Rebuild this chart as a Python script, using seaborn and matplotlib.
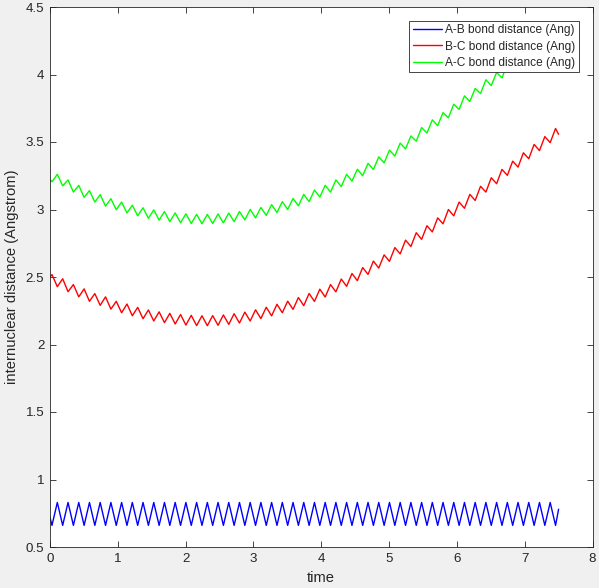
import matplotlib
matplotlib.use("Agg")
import seaborn as sns
from matplotlib import pyplot as plt
from matplotlib.ticker import FormatStrFormatter
import numpy as np
import pandas as pd

# time of each turning point of the A-B vibration
time = [0.0, 0.029, 0.108, 0.187, 0.266, 0.345, 0.424, 0.503, 0.582, 0.661,
        0.740, 0.819, 0.898, 0.977, 1.056, 1.135, 1.214, 1.293, 1.372, 1.451,
        1.530, 1.609, 1.688, 1.767, 1.846, 1.925, 2.004, 2.083, 2.162, 2.241,
        2.320, 2.399, 2.478, 2.557, 2.636, 2.715, 2.794, 2.873, 2.952, 3.031,
        3.110, 3.189, 3.268, 3.347, 3.426, 3.505, 3.584, 3.663, 3.742, 3.821,
        3.900, 3.979, 4.058, 4.137, 4.216, 4.295, 4.374, 4.453, 4.532, 4.611,
        4.690, 4.769, 4.848, 4.927, 5.006, 5.085, 5.164, 5.243, 5.322, 5.401,
        5.480, 5.559, 5.638, 5.717, 5.796, 5.875, 5.954, 6.033, 6.112, 6.191,
        6.270, 6.349, 6.428, 6.507, 6.586, 6.665, 6.744, 6.823, 6.902, 6.981,
        7.060, 7.139, 7.218, 7.297, 7.376, 7.455, 7.5]

ab = [0.72, 0.66, 0.83, 0.66, 0.83, 0.66, 0.83, 0.66, 0.83, 0.66,
      0.83, 0.66, 0.83, 0.66, 0.83, 0.66, 0.83, 0.66, 0.83, 0.66,
      0.83, 0.66, 0.83, 0.66, 0.83, 0.66, 0.83, 0.66, 0.83, 0.66,
      0.83, 0.66, 0.83, 0.66, 0.83, 0.66, 0.83, 0.66, 0.83, 0.66,
      0.83, 0.66, 0.83, 0.66, 0.83, 0.66, 0.83, 0.66, 0.83, 0.66,
      0.83, 0.66, 0.83, 0.66, 0.83, 0.66, 0.83, 0.66, 0.83, 0.66,
      0.83, 0.66, 0.83, 0.66, 0.83, 0.66, 0.83, 0.66, 0.83, 0.66,
      0.83, 0.66, 0.83, 0.66, 0.83, 0.66, 0.83, 0.66, 0.83, 0.66,
      0.83, 0.66, 0.83, 0.66, 0.83, 0.66, 0.83, 0.66, 0.83, 0.66,
      0.83, 0.66, 0.83, 0.66, 0.83, 0.66, 0.78]

bc = [2.50, 2.518, 2.428, 2.487, 2.391, 2.444, 2.353, 2.412, 2.320, 2.377,
      2.290, 2.353, 2.262, 2.320, 2.235, 2.300, 2.213, 2.275, 2.191, 2.256,
      2.174, 2.242, 2.162, 2.231, 2.152, 2.222, 2.144, 2.216, 2.140, 2.213,
      2.139, 2.214, 2.142, 2.219, 2.149, 2.228, 2.159, 2.240, 2.174, 2.257,
      2.192, 2.276, 2.212, 2.298, 2.235, 2.321, 2.260, 2.348, 2.288, 2.378,
      2.319, 2.410, 2.352, 2.444, 2.390, 2.485, 2.431, 2.526, 2.473, 2.570,
      2.519, 2.618, 2.566, 2.664, 2.616, 2.718, 2.671, 2.773, 2.726, 2.828,
      2.779, 2.880, 2.834, 2.938, 2.894, 3.000, 2.953, 3.055, 3.009, 3.112,
      3.067, 3.172, 3.129, 3.235, 3.191, 3.297, 3.253, 3.358, 3.314, 3.420,
      3.376, 3.482, 3.436, 3.540, 3.495, 3.600, 3.557]

ac = [3.224, 3.205, 3.261, 3.175, 3.219, 3.129, 3.179, 3.090, 3.140, 3.055,
      3.110, 3.025, 3.080, 2.998, 3.055, 2.974, 3.032, 2.953, 3.013, 2.935,
      2.997, 2.921, 2.985, 2.910, 2.975, 2.902, 2.968, 2.896, 2.964, 2.894,
      2.964, 2.896, 2.967, 2.901, 2.974, 2.910, 2.985, 2.923, 3.001, 2.938,
      3.015, 2.956, 3.036, 2.977, 3.058, 3.000, 3.082, 3.027, 3.112, 3.058,
      3.144, 3.092, 3.179, 3.129, 3.219, 3.170, 3.261, 3.210, 3.298, 3.250,
      3.342, 3.296, 3.390, 3.345, 3.440, 3.396, 3.492, 3.449, 3.545, 3.506,
      3.607, 3.566, 3.664, 3.621, 3.718, 3.679, 3.780, 3.741, 3.842, 3.800,
      3.897, 3.859, 3.961, 3.918, 4.015, 3.975, 4.075, 4.035, 4.135, 4.095,
      4.195, 4.155, 4.255, 4.215, 4.315, 4.275, 4.30]

labels = ["A-B bond distance (Ang)", "B-C bond distance (Ang)", "A-C bond distance (Ang)"]

df = pd.DataFrame({"time": time, "AB": ab, "BC": bc, "AC": ac})

sns.set_style("ticks")
plt.rcParams["font.family"] = ["Liberation Sans", "DejaVu Sans"]
dark = "#262626"

fig = plt.figure(figsize=(5.99, 5.88), dpi=100, facecolor="#f0f0f0")
ax = fig.add_axes([50 / 599, 1 - 547 / 588, 542.5 / 599, 540 / 588])
ax.set_facecolor("white")

style = dict(lw=1.0, solid_joinstyle="round", solid_capstyle="round", ax=ax)
sns.lineplot(data=df, x="time", y="AB", color="#0000ff", label=labels[0], **style)
sns.lineplot(data=df, x="time", y="BC", color="#ff0000", label=labels[1], **style)
sns.lineplot(data=df, x="time", y="AC", color="#00ff00", label=labels[2], **style)

ax.set_xlim(0, 8)
ax.set_ylim(0.5, 4.5)
ax.set_xticks(np.arange(0, 9, 1))
ax.set_yticks(np.arange(0.5, 4.51, 0.5))
ax.yaxis.set_major_formatter(FormatStrFormatter("%g"))
ax.tick_params(direction="in", top=True, right=True, length=4.5, width=0.6,
               colors=dark, labelsize=9.6, pad=4)
for sp in ax.spines.values():
    sp.set_color(dark)
    sp.set_linewidth(0.6)

ax.set_xlabel("time", fontsize=10.6, color=dark, labelpad=5)
ax.set_ylabel("internuclear distance (Angstrom)", fontsize=10.6, color=dark, labelpad=5)

leg = ax.legend(loc="upper right", bbox_to_anchor=(0.975, 0.9746), borderaxespad=0,
                fancybox=False, framealpha=1, edgecolor=dark, fontsize=8.6,
                handlelength=2.4, handletextpad=0.3, labelspacing=0.36,
                borderpad=0.3)
leg.get_frame().set_linewidth(0.6)
for t in leg.get_texts():
    t.set_color(dark)

fig.savefig("out.png", dpi=100, facecolor=fig.get_facecolor())
